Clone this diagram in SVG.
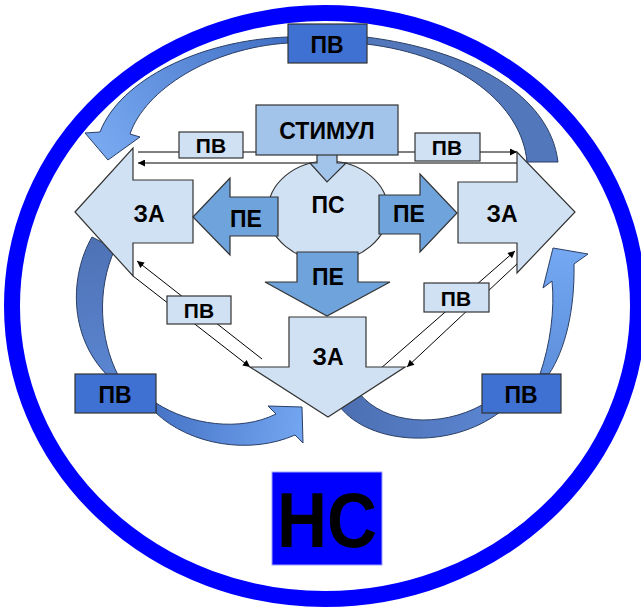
<svg xmlns="http://www.w3.org/2000/svg" width="641" height="611" viewBox="0 0 641 611">
<defs>
<style>
text{font-family:"Liberation Sans",Arial,sans-serif;font-weight:bold;fill:#000;text-anchor:middle}
.t{font-size:23px}
.s{font-size:21px}
.node{stroke:#333;stroke-width:1.2}
.light{fill:#d0e1f4}
.mid{fill:#6ea3dc}
.stim{fill:#a2c3ea}
.dark{fill:#3e71d2}
.band{stroke:#2b3f66;stroke-width:1}
.ln{stroke:#000;stroke-width:1;fill:none;marker-end:url(#ah)}
</style>
<marker id="ah" viewBox="0 0 10 10" refX="10" refY="5" markerWidth="9" markerHeight="7" markerUnits="userSpaceOnUse" orient="auto">
<path d="M0,0 L10,5 L0,10 Z" fill="#000"/>
</marker>
<linearGradient id="gTopL" gradientUnits="userSpaceOnUse" x1="100" y1="150" x2="288" y2="40">
<stop offset="0" stop-color="#78a9f0"/><stop offset="1" stop-color="#416fc4"/>
</linearGradient>
<linearGradient id="gBotL" gradientUnits="userSpaceOnUse" x1="156" y1="410" x2="300" y2="425">
<stop offset="0" stop-color="#4673c6"/><stop offset="1" stop-color="#72a5f0"/>
</linearGradient>
<linearGradient id="gUpL" gradientUnits="userSpaceOnUse" x1="100" y1="240" x2="110" y2="375">
<stop offset="0" stop-color="#4f72b5"/><stop offset="1" stop-color="#5a85d0"/>
</linearGradient>
<linearGradient id="gBotR" gradientUnits="userSpaceOnUse" x1="345" y1="400" x2="500" y2="410">
<stop offset="0" stop-color="#4d70b3"/><stop offset="1" stop-color="#5b86d2"/>
</linearGradient>
<linearGradient id="gUpR" gradientUnits="userSpaceOnUse" x1="545" y1="374" x2="565" y2="250">
<stop offset="0" stop-color="#5d8fdc"/><stop offset="1" stop-color="#74a8f2"/>
</linearGradient>
</defs>

<g id="boundary">
<ellipse cx="325" cy="306" rx="313" ry="293" fill="none" stroke="#0000ff" stroke-width="16"/>
</g>

<g id="connectors">
<path class="band" fill="url(#gTopL)" d="M288,37 C200,40 120,80 100,132 L85,133 L108,160 L140,137 L130,134 C145,90 210,48 288,43 Z"/>
<path class="band" fill="#5277bb" d="M366,37 C470,50 550,95 558,162 L527,162 C522,105 460,55 366,44 Z"/>
<path class="band" fill="url(#gUpL)" d="M92,237 C70,275 68,335 107,375 L118,375 C100,340 96,290 115,249 Z"/>
<path class="band" fill="url(#gBotL)" d="M156,403 C190,425 240,432 276,414 L268,406 L302,407 L303,443 L295,435 C250,455 190,445 156,413 Z"/>
<path class="band" fill="url(#gBotR)" d="M340,407 C370,445 450,450 500,412 L482,405 C440,428 385,425 359,393 Z"/>
<path class="band" fill="url(#gUpR)" d="M540,374 C550,345 555,310 552,281 L543,288 L553,248 L588,254 L574,264 C575,310 565,350 549,374 Z"/>
<path class="ln" d="M138,152 H517"/>
<path class="ln" d="M517,163 H138"/>
<path class="ln" d="M262,359 L137,261"/>
<path class="ln" d="M133,276 L250,367"/>
<path class="ln" d="M380,369 L515,251"/>
<path class="ln" d="M518,263 L407,367"/>
</g>

<g id="za-left">
<polygon class="node light" points="75,212 133,148 133,180 193,180 193,243 133,243 133,276"/>
<text class="t" x="149" y="222">ЗА</text>
</g>
<g id="za-right">
<polygon class="node light" points="458,182 517,182 517,152 575,212 517,273 517,243 458,243"/>
<text class="t" x="502" y="222">ЗА</text>
</g>
<g id="za-bottom">
<polygon class="node light" points="289,317 366,317 366,367 405,367 328,417 250,367 289,367"/>
<text class="t" x="328" y="365">ЗА</text>
</g>

<g id="ps">
<ellipse class="node light" cx="328" cy="211" rx="60" ry="50"/>
<text class="t" x="328" y="213">ПС</text>
</g>

<g id="pe-left">
<polygon class="node mid" points="193,217 230,178 230,197 278,197 278,236 230,236 230,255"/>
<text class="t" x="246" y="227">ПЕ</text>
</g>
<g id="pe-right">
<polygon class="node mid" points="379,195 420,195 420,174 457,213 420,252 420,234 379,234"/>
<text class="t" x="409" y="222">ПЕ</text>
</g>
<g id="pe-bottom">
<polygon class="node mid" points="297,252 358,252 358,282 390,282 327,316 265,282 297,282"/>
<text class="t" x="328" y="285">ПЕ</text>
</g>

<g id="stimul-arrow">
<polygon class="node stim" points="317,154 337,154 337,163 346,163 327,182 310,163 317,163"/>
</g>
<g id="stimul">
<rect class="node stim" x="256" y="105" width="142" height="50"/>
<text class="t" x="327" y="139">СТИМУЛ</text>
</g>

<g id="pv-top">
<rect class="node dark" x="288" y="24" width="79" height="39"/>
<text class="t" x="327" y="53">ПВ</text>
</g>
<g id="pv-h-left">
<rect class="node light" x="179" y="132" width="64" height="26"/>
<text class="s" x="211" y="153">ПВ</text>
</g>
<g id="pv-h-right">
<rect class="node light" x="415" y="133" width="65" height="28"/>
<text class="s" x="447" y="155">ПВ</text>
</g>
<g id="pv-d-left">
<rect class="node light" x="167" y="296" width="64" height="28"/>
<text class="s" x="199" y="318">ПВ</text>
</g>
<g id="pv-d-right">
<rect class="node light" x="424" y="283" width="65" height="29"/>
<text class="s" x="456" y="306">ПВ</text>
</g>
<g id="pv-bottom-left">
<rect class="node dark" x="75" y="374" width="81" height="39"/>
<text class="t" x="115" y="403">ПВ</text>
</g>
<g id="pv-bottom-right">
<rect class="node dark" x="482" y="374" width="79" height="39"/>
<text class="t" x="521" y="403">ПВ</text>
</g>

<g id="ns">
<rect x="272" y="472" width="110" height="93" fill="#0000ff" stroke="#a0a0ff" stroke-width="1"/>
<text x="327" y="547" style="font-size:78px" textLength="100" lengthAdjust="spacingAndGlyphs">НС</text>
</g>
</svg>
